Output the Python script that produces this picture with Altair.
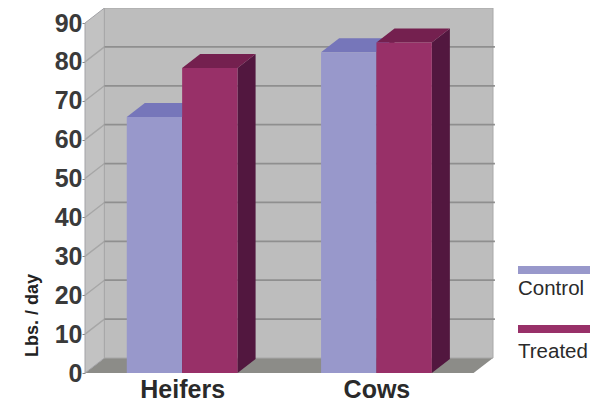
import altair as alt
import pandas as pd

categories = ["Heifers", "Cows"]
series = ["Control", "Treated"]
control = [65.8, 82.5]
treated = [78.4, 85.0]
y_ticks = [0, 10, 20, 30, 40, 50, 60, 70, 80, 90]
grid_values = [10, 20, 30, 40, 50, 60, 70, 80]

X_MIN, X_MAX, WALL_DX, WALL_DY = -0.5, 1.6, 0.1, 3.86
BAR_W, BAR_DX, BAR_DY = 0.285, 0.093, 3.6
Y_MAX = 90 + WALL_DY
FACE_KEYS = ["Control", "Treated", "Control top", "Treated top", "Control side", "Treated side"]
FACE_COLS = ["#9898cb", "#983068", "#7676ba", "#74204f", "#52173f", "#52173f"]

x_scale = alt.Scale(domain=[X_MIN, X_MAX], nice=False, zero=False)
y_scale = alt.Scale(domain=[0, Y_MAX], nice=False, zero=False)
X = alt.X("x:Q", scale=x_scale, title=None,
          axis=alt.Axis(values=[0, 1], domain=False, grid=False, ticks=False,
                        labelExpr=f"datum.value == 0 ? '{categories[0]}' : '{categories[1]}'",
                        labelPadding=4, labelFont="Liberation Sans", labelFontWeight="bold",
                        labelFontSize=25, labelColor="#2a2a2a", labelFlush=False,
                        labelOverlap=False, labelBound=False))
Y = alt.Y("y:Q", scale=y_scale, title="Lbs. / day",
          axis=alt.Axis(values=y_ticks, domain=False, grid=False, tickSize=3, tickColor="#888888",
                        labelPadding=0, labelFont="Liberation Sans", labelFontWeight="bold",
                        labelFontSize=25, labelColor="#3a3a3a", labelFlush=False,
                        labelOverlap=False, labelBound=False,
                        titleFont="Liberation Sans", titleFontWeight="bold", titleFontSize=18,
                        titleColor="#222222", titleAngle=270, titleAlign="center",
                        titleBaseline="middle", titleX=-53, titleY=307))
COLOUR = alt.Color("f:N", legend=None, scale=alt.Scale(domain=FACE_KEYS, range=FACE_COLS))

# bar faces
fronts, tops, sides = [], [], []
for s, vals in zip(series, [control, treated]):
    for i, (c, v) in enumerate(zip(categories, vals)):
        left = i - BAR_W if s == "Control" else i
        right = left + BAR_W
        k = f"{c}-{s}"
        fronts.append({"x": left, "x2": right, "y": 0, "y2": v, "f": s})
        for t in (0, 1):
            tops.append({"k": k, "f": s + " top", "y": v + t * BAR_DY,
                         "x": left + t * BAR_DX, "x2": right + t * BAR_DX})
            sides.append({"k": k, "f": s + " side", "x": right + t * BAR_DX,
                          "y": v + t * BAR_DY, "y2": t * BAR_DY})

# walls and floor
floor = alt.Chart(pd.DataFrame({
    "y": [0, WALL_DY],
    "x": [X_MIN, X_MIN + WALL_DX],
    "x2": [1.5, X_MAX],
})).mark_area(orient="horizontal", color="#8c8c88").encode(x=X, x2="x2:Q", y=Y)

side_wall = alt.Chart(pd.DataFrame({
    "x": [X_MIN, X_MIN + WALL_DX],
    "y": [90, Y_MAX],
    "y2": [0, WALL_DY],
})).mark_area(color="#c2c2c2", stroke="#a2a2a6", strokeWidth=1).encode(x=X, y=Y, y2="y2:Q")

back_wall = alt.Chart(pd.DataFrame({
    "x": [X_MIN + WALL_DX], "x2": [X_MAX], "y": [WALL_DY], "y2": [Y_MAX],
})).mark_rect(color="#bdbdbd", stroke="#a8a8a8", strokeWidth=1).encode(x=X, x2="x2:Q", y=Y, y2="y2:Q")

grid_back = alt.Chart(pd.DataFrame({
    "y": [v + WALL_DY for v in grid_values],
    "x": [X_MIN + WALL_DX] * len(grid_values),
    "x2": [X_MAX + 0.01] * len(grid_values),
})).mark_rule(color="#8f8f8f", strokeWidth=1.8).encode(x=X, x2="x2:Q", y=Y)

grid_side = alt.Chart(pd.DataFrame(
    [{"k": v, "x": X_MIN + t * WALL_DX, "y": v + t * WALL_DY}
     for v in grid_values for t in (0, 1)]
)).mark_line(color="#a6a6a6", strokeWidth=1.4).encode(x=X, y=Y, detail="k:N")

# bars
bar_tops = alt.Chart(pd.DataFrame(tops)).mark_area(orient="horizontal").encode(
    x=X, x2="x2:Q", y=Y, detail="k:N", color=COLOUR)
bar_sides = alt.Chart(pd.DataFrame(sides)).mark_area().encode(
    x=X, y=Y, y2="y2:Q", detail="k:N", color=COLOUR)
bar_fronts = alt.Chart(pd.DataFrame(fronts)).mark_rect().encode(
    x=X, x2="x2:Q", y=Y, y2="y2:Q", color=COLOUR)

# legend drawn as swatches above their labels
legend_layers = []
for i, s in enumerate(series):
    d = pd.DataFrame({"f": [s]})
    legend_layers.append(alt.Chart(d).mark_rect().encode(
        x=alt.value(433), x2=alt.value(505),
        y=alt.value(258 + 59 * i), y2=alt.value(266 + 59 * i),
        color=COLOUR))
    legend_layers.append(alt.Chart(d).mark_text(
        align="left", baseline="alphabetic", font="Liberation Sans", fontSize=20.5, color="#2a2a2a"
    ).encode(x=alt.value(433), y=alt.value(287 + 63 * i), text="f:N"))

chart = alt.layer(
    floor, side_wall, back_wall, grid_side, grid_back,
    bar_sides, bar_tops, bar_fronts, *legend_layers,
).properties(
    width=408, height=365,
    autosize=alt.AutoSizeParams(type="none"),
    padding={"left": 77, "top": 0, "right": 97, "bottom": 30},
).configure_view(stroke=None)

chart.save("out.html", embed_options={"renderer": "svg", "actions": False})
